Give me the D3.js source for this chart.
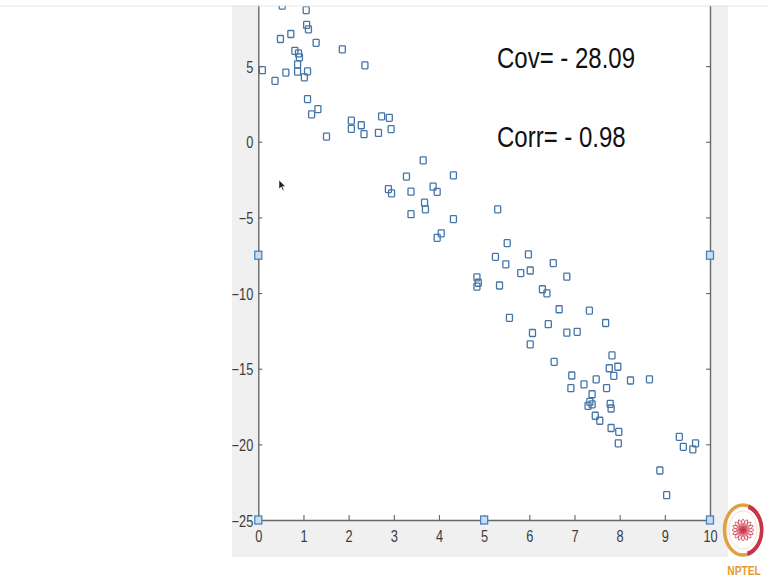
<!DOCTYPE html>
<html>
<head>
<meta charset="utf-8">
<script src="https://cdn.jsdelivr.net/npm/d3@7"></script>
<style>
  html, body { margin: 0; padding: 0; background: #ffffff; }
  svg { display: block; }
</style>
</head>
<body>
<svg id="chart" width="768" height="578"></svg>
<script>
// ---- data ----
const xValues = [
  0.53, 1.06, 1.07, 1.11, 0.72, 0.49, 1.28, 1.86, 0.81, 0.89,
  0.91, 0.87, 2.36, 0.09, 0.61, 0.87, 1.09, 1.02, 0.37, 1.09,
  1.32, 1.18, 1.51, 2.06, 2.06, 2.28, 2.34, 2.66, 2.73, 2.90,
  2.94, 3.65, 3.28, 4.32, 2.88, 2.95, 3.38, 3.87, 3.96, 3.68,
  3.70, 3.38, 4.32, 4.05, 3.96, 5.30, 5.51, 5.25, 5.48, 5.98,
  5.81, 6.02, 6.53, 6.83, 4.84, 4.87, 4.84, 5.34, 6.29, 6.39,
  6.66, 7.33, 7.69, 5.56, 6.42, 6.07, 6.02, 6.83, 7.06, 6.55,
  6.94, 7.83, 7.77, 7.96, 7.87, 6.92, 7.21, 7.48, 7.71, 8.24,
  8.66, 7.39, 7.34, 7.30, 7.39, 7.79, 7.81, 7.46, 7.56, 7.81,
  7.98, 7.97, 9.32, 9.41, 9.68, 9.62, 8.89, 9.04
];
const yValues = [
  9.0, 8.70, 7.72, 7.43, 7.12, 6.79, 6.54, 6.11, 6.01, 5.84,
  5.58, 5.12, 5.05, 4.73, 4.57, 4.63, 4.65, 4.26, 4.03, 2.82,
  2.16, 1.81, 0.34, 1.39, 0.85, 1.09, 0.51, 0.58, 1.68, 1.58,
  0.84, -1.23, -2.30, -2.22, -3.13, -3.41, -3.30, -2.97, -3.31, -4.03,
  -4.47, -4.79, -5.11, -6.05, -6.35, -4.47, -6.70, -7.61, -8.10, -7.44,
  -8.68, -8.51, -8.02, -8.92, -8.96, -9.32, -9.57, -9.50, -9.75, -10.02,
  -11.07, -11.16, -11.98, -11.64, -12.06, -12.64, -13.39, -12.62, -12.56, -14.55,
  -15.45, -14.12, -14.97, -14.87, -15.47, -16.29, -16.03, -15.70, -16.28, -15.78,
  -15.70, -16.69, -17.19, -17.46, -17.36, -17.32, -17.63, -18.11, -18.44, -18.92,
  -19.17, -19.93, -19.50, -20.17, -19.93, -20.33, -21.73, -23.36
];
const edgeX = [0, 10, 0, 5, 10];
const edgeY = [-7.5, -7.5, -25, -25, -25];
const xTicks = [0, 1, 2, 3, 4, 5, 6, 7, 8, 9, 10];
const yTicks = [5, 0, -5, -10, -15, -20, -25];
const annotations = ["Cov= - 28.09", "Corr= - 0.98"];

// ---- layout ----
const svg = d3.select("#chart");
const L = 258.3, R = 710, B = 520;
const pxPerY = 15.13;
const x = d3.scaleLinear().domain([0, 10]).range([L, R]);
const y = d3.scaleLinear().domain([-25, 10]).range([B, B - 35 * pxPerY]);
const FONT = "'Liberation Sans', Arial, Helvetica, sans-serif";
const SQX = 0.8;

// figure background (grey MATLAB figure)
svg.append("rect").attr("x", 232).attr("y", 0).attr("width", 496).attr("height", 557)
  .attr("fill", "#f0f0f0");
// axes area
svg.append("rect").attr("x", L).attr("y", -20).attr("width", R - L).attr("height", B + 20)
  .attr("fill", "#ffffff");

// points
const pts = xValues.map((v, i) => ({ x: v, y: yValues[i] }));
const SW = 6, SH = 7;
svg.append("g").selectAll("rect").data(pts).join("rect")
  .attr("x", d => x(d.x) - SW / 2).attr("y", d => y(d.y) - SH / 2)
  .attr("width", SW).attr("height", SH).attr("rx", 0.8)
  .attr("fill", "none").attr("stroke", "#4474a8").attr("stroke-width", 1.3);

// axes
const axisColor = "#666666";
const gx = svg.append("g").attr("transform", `translate(0,${B})`)
  .call(d3.axisBottom(x).tickValues(xTicks).tickFormat(d3.format("d"))
    .tickSizeInner(-5).tickSizeOuter(0).tickPadding(10.5));
const gy = svg.append("g").attr("transform", `translate(${L},0)`)
  .call(d3.axisLeft(y).tickValues(yTicks).tickFormat(d3.format("d"))
    .tickSizeInner(-4).tickSizeOuter(0).tickPadding(5));
const gr = svg.append("g").attr("transform", `translate(${R},0)`)
  .call(d3.axisRight(y).tickValues(yTicks).tickFormat("")
    .tickSizeInner(-4).tickSizeOuter(0));

[gx, gy, gr].forEach(g => {
  g.attr("color", axisColor);
  g.select(".domain").attr("stroke-width", 1.4);
  g.selectAll(".tick line").attr("stroke-width", 1.1);
  g.selectAll("text").attr("font-family", FONT).attr("font-size", 16).attr("fill", "#3c3c3c");
});
gx.selectAll(".tick text").each(function () {
  const t = d3.select(this);
  const yy = +t.attr("y");
  t.attr("y", null).attr("transform", `translate(0,${yy}) scale(${SQX},1)`);
});
gy.selectAll(".tick text").each(function () {
  const t = d3.select(this);
  const xx = +t.attr("x");
  t.attr("x", null).attr("dy", "0.38em").attr("transform", `translate(${xx},0) scale(${SQX},1)`);
});

// edge markers (filled)
const edges = edgeX.map((v, i) => ({ x: v, y: edgeY[i] }));
svg.append("g").selectAll("rect").data(edges).join("rect")
  .attr("x", d => x(d.x) - 3.5).attr("y", d => y(d.y) - 4)
  .attr("width", 7).attr("height", 8)
  .attr("fill", "#c9dcf0").attr("stroke", "#4a82bf").attr("stroke-width", 1.3);

// annotations
const annY = [68, 146.5];
annotations.forEach((txt, i) => {
  svg.append("text")
    .attr("transform", `translate(497,${annY[i]}) scale(${SQX},1)`)
    .attr("font-family", FONT).attr("font-size", 30).attr("fill", "#111111")
    .text(txt);
});

// mouse cursor
svg.append("path")
  .attr("d", "M279,180 L279,189 L281.2,187 L282.8,190.5 L284,190 L282.5,186.6 L285.5,186.6 Z")
  .attr("fill", "#222").attr("stroke", "#fff").attr("stroke-width", 0.5);

// top white strip of the video frame
svg.append("rect").attr("x", 0).attr("y", 0).attr("width", 768).attr("height", 5.5).attr("fill", "#ffffff");
svg.append("line").attr("x1", 0).attr("x2", 768).attr("y1", 6).attr("y2", 6)
  .attr("stroke", "#e6e6e6").attr("stroke-width", 1);

// NPTEL logo
const logo = svg.append("g").attr("transform", "translate(743,530)");
logo.append("ellipse").attr("rx", 18.5).attr("ry", 25).attr("fill", "none")
  .attr("stroke", "#e0a040").attr("stroke-width", 3.5);
logo.append("path").attr("d", d3.arc()({ innerRadius: 17, outerRadius: 20.5, startAngle: 0.3, endAngle: 2.9 }))
  .attr("transform", "scale(1,1.3)").attr("fill", "#c8334a");
logo.append("ellipse").attr("rx", 14).attr("ry", 19).attr("fill", "#ffffff").attr("stroke", "#f0d0c0").attr("stroke-width", 0.8);
for (let k = 0; k < 8; k++) {
  const a = k * Math.PI / 8;
  logo.append("ellipse").attr("rx", 2.2).attr("ry", 11)
    .attr("transform", `rotate(${a * 180 / Math.PI})`)
    .attr("fill", "none").attr("stroke", "#d04050").attr("stroke-width", 0.8);
}
logo.append("circle").attr("r", 2).attr("fill", "#c83040");
svg.append("text").attr("transform", "translate(744,575) scale(0.85,1)")
  .attr("text-anchor", "middle").attr("font-family", FONT).attr("font-weight", "bold")
  .attr("font-size", 12).attr("fill", "#e39a2d").text("NPTEL");
</script>
</body>
</html>
